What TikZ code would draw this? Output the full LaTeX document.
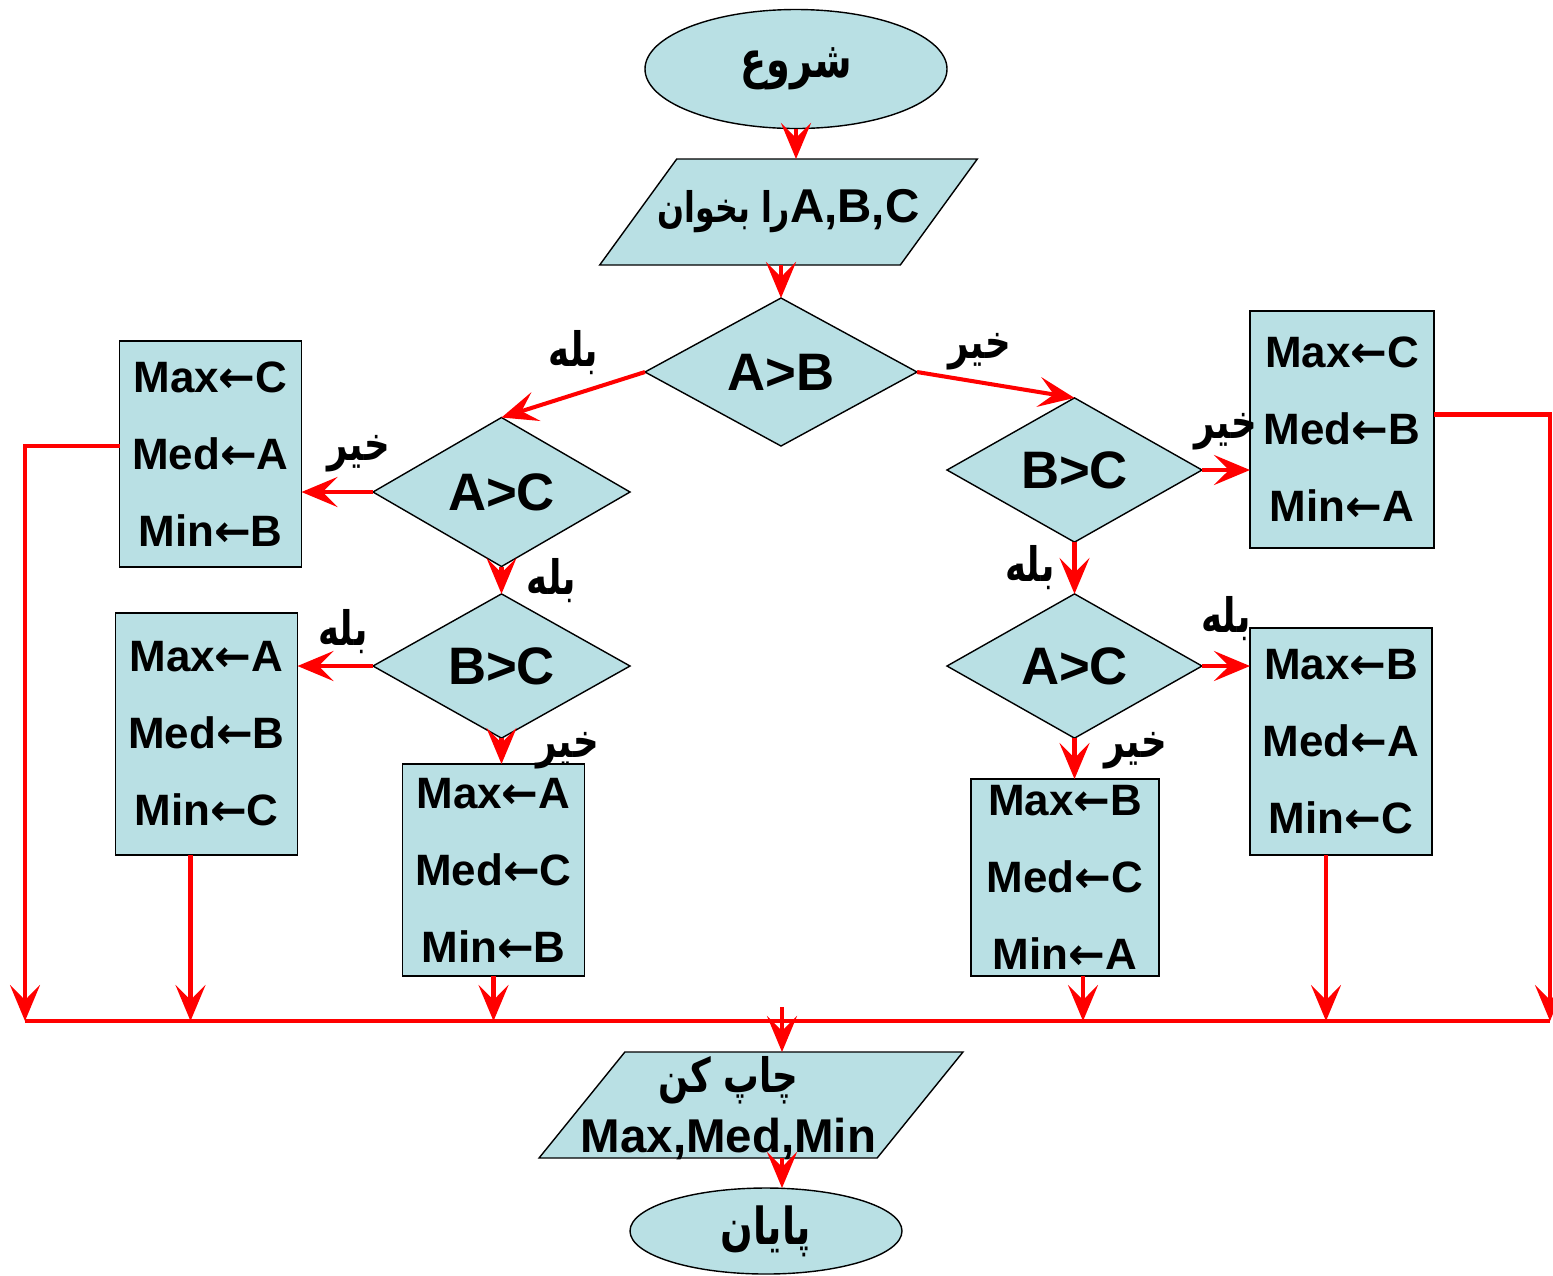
\documentclass[tikz,border=0pt]{standalone}
\usepackage{fontspec}
\setmainfont{Liberation Sans}
\newfontfamily\arabicfont[Script=Arabic, FakeStretch=0.75]{DejaVu Sans}
\newfontfamily\symfont{DejaVu Sans}
\TeXXeTstate=1
\usetikzlibrary{shapes.geometric,arrows.meta}
\definecolor{boxfill}{RGB}{185,224,228}
\definecolor{flowred}{RGB}{255,0,0}
\newcommand{\fatext}[1]{{\arabicfont\bfseries\beginR #1\endR}}
\newcommand{\asg}{{\symfont\bfseries ←}}

\begin{document}
\begin{tikzpicture}[
    every node/.style={outer sep=0pt},
    term/.style={ellipse, draw=black, fill=boxfill, inner sep=0pt, font=\fontsize{14.5}{17}\selectfont},
    io/.style={trapezium, trapezium stretches body, draw=black, fill=boxfill, inner ysep=0pt, font=\bfseries\fontsize{13.5}{17}\selectfont},
    test/.style={diamond, draw=black, fill=boxfill, inner sep=0pt, font=\bfseries\fontsize{15}{18}\selectfont},
    assign/.style={rectangle, draw=black, fill=boxfill, inner sep=0pt, align=center, minimum width=1.82cm, font=\bfseries\fontsize{12.5}{21.9}\selectfont},
    flow/.style={draw=flowred, line width=1.15pt, -{Stealth[length=0.36cm, width=0.3cm, inset=0.15cm]}},
    bus/.style={draw=flowred, line width=1.15pt},
    answer/.style={inner sep=0pt, font=\fontsize{13.5}{16}\selectfont},
  ]
  \useasboundingbox (0,0) rectangle (15.53,-12.75);

  % start and input
  \node[term, minimum width=3.02cm, minimum height=1.19cm] at (7.96,-0.69) (start) {\fatext{شروع}};
  \node[io, trapezium left angle=54, trapezium right angle=126, inner xsep=-0.19cm, text height=0.63cm, text depth=0.43cm] at (7.885,-2.12) (read) {{\fontsize{12}{14}\selectfont\fatext{را بخوان}}A,B,C};

  % tests
  \node[test, minimum width=2.72cm, minimum height=1.48cm] at (7.81,-3.72) (ab) {A>B};
  \node[test, minimum width=2.57cm, minimum height=1.49cm] at (5.015,-4.92) (acL) {A>C};
  \node[test, minimum width=2.57cm, minimum height=1.33cm] at (5.015,-6.66) (bcL) {B>C};
  \node[test, minimum width=2.55cm, minimum height=1.35cm] at (10.745,-4.70) (bcR) {B>C};
  \node[test, minimum width=2.55cm, minimum height=1.35cm] at (10.745,-6.66) (acR) {A>C};

  % results
  \node[assign, minimum height=2.26cm] at (2.105,-4.54) (cab) {Max\asg C\\Med\asg A\\Min\asg B};
  \node[assign, minimum height=2.42cm] at (2.065,-7.34) (abc) {Max\asg A\\Med\asg B\\Min\asg C};
  \node[assign, minimum height=2.12cm] at (4.935,-8.70) (acb) {Max\asg A\\Med\asg C\\Min\asg B};
  \node[assign, minimum width=1.84cm, minimum height=2.37cm] at (13.42,-4.295) (cba) {Max\asg C\\Med\asg B\\Min\asg A};
  \node[assign, minimum height=2.27cm] at (13.41,-7.415) (bac) {Max\asg B\\Med\asg A\\Min\asg C};
  \node[assign, minimum width=1.88cm, minimum height=1.97cm] at (10.65,-8.775) (bca) {Max\asg B\\Med\asg C\\Min\asg A};

  % output and end
  \node[io, trapezium left angle=51, trapezium right angle=129, inner xsep=-0.44cm, align=center, text height=1.0cm, text depth=0.06cm] at (7.51,-11.05) (print) {\fatext{چاپ کن}\hspace*{0.45cm}\\Max,Med,Min\hspace*{0.45cm}};
  \node[term, minimum width=2.72cm, minimum height=0.86cm] at (7.66,-12.31) (end) {\fatext{پايان}};

  \coordinate (busL) at (0.25,-10.21);
  \coordinate (busR) at (15.50,-10.21);
  \coordinate (busTop) at (7.82,-10.07);

  \draw[flow] (start.south) -- (start.south |- read.north);
  \draw[flow] (ab.north |- read.south) -- (ab.north);
  \draw[flow] (ab.west) -- (acL.north) node[midway, above=0.2cm, answer] {\fatext{بله}};
  \draw[flow] (ab.east) -- (bcR.north) node[pos=0.4, above=0.12cm, answer] {\fatext{خير}};
  \draw[flow] (acL.west) -- (acL.west -| cab.east) node[pos=0.2, above=0.2cm, answer] {\fatext{خير}};
  \draw[flow] (acL.south) -- (bcL.north) node[midway, right=0.25cm, answer] {\fatext{بله}};
  \draw[flow] (bcL.west) -- (bcL.west -| abc.east) node[pos=0.4, above=0.12cm, answer] {\fatext{بله}};
  \draw[flow] (bcL.south) -- (bcL.south |- acb.north) node[midway, right=0.35cm, answer] {\fatext{خير}};
  \draw[flow] (bcR.east) -- (bcR.east -| cba.west) node[midway, above=0.2cm, answer] {\fatext{خير}};
  \draw[flow] (bcR.south) -- (acR.north) node[midway, left=0.2cm, answer] {\fatext{بله}};
  \draw[flow] (acR.east) -- (acR.east -| bac.west) node[midway, above=0.25cm, answer] {\fatext{بله}};
  \draw[flow] (acR.south) -- (acR.south |- bca.north) node[pos=0.3, right=0.3cm, answer] {\fatext{خير}};

  % collecting line
  \draw[bus] (busL) -- (busR);
  \draw[flow] ([yshift=0.08cm]cab.west) -| (busL);
  \draw[flow] ([yshift=0.15cm]cba.east) -| (busR);
  \foreach \n/\dx in {abc/-0.16, acb/0, bca/0.18, bac/-0.15}
    \draw[flow] ([xshift=\dx cm]\n.south) -- ([xshift=\dx cm]\n.south |- busL);
  \draw[flow] (busTop) -- (busTop |- print.north);
  \draw[flow] (busTop |- print.south) -- (busTop |- end.north);
\end{tikzpicture}
\end{document}
